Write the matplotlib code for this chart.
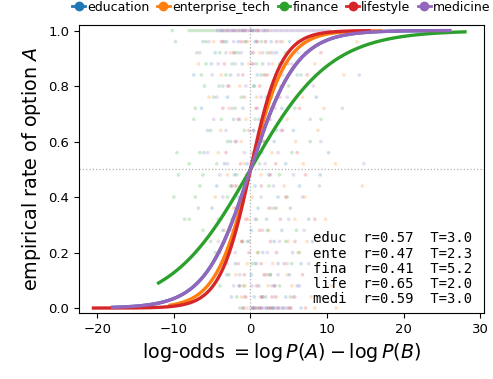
import numpy as np
import matplotlib
matplotlib.use("Agg")
import matplotlib.pyplot as plt
from matplotlib.lines import Line2D

# ---- data -------------------------------------------------------------
categories = ["education", "enterprise_tech", "finance", "lifestyle", "medicine"]
short_names = ["educ", "ente", "fina", "life", "medi"]
corr_r = [0.57, 0.47, 0.41, 0.65, 0.59]
temperature = [3.0, 2.3, 5.2, 2.0, 3.0]
curve_lo = [-18.0, -10.5, -12.0, -20.5, -18.0]
curve_hi = [26.0, 17.0, 28.0, 15.5, 26.0]
colors = ["#1f77b4", "#ff7f0e", "#2ca02c", "#d62728", "#9467bd"]

n_trials = 25  # empirical rate = k / n_trials; rows listed from k=25 down to k=0

edu_pts = [
    [-3.6, -2.9, -2.1, -1.4, -0.6, 0.4, 1.8],
    [-6.2, -3.1, -1.6, 0.6, 2.7, 5.1],
    [-4.6, -2.0, 0.1, 3.4, 7.2],
    [-5.1, -1.1, 1.6, 4.4],
    [-7.4, -2.6, 0.9, 6.1],
    [-4.1, 0.5, 3.2],
    [-3.0, 2.1, 8.6],
    [-6.4, -1.0, 4.1],
    [-2.2, 1.1],
    [-5.6, 0.4, 5.6],
    [-2.6, 3.1],
    [-6.1, 1.5, 10.2],
    [-3.4, -0.4, 4.6],
    [-2.1, 2.4, 9.1],
    [-4.4, 0.6, 6.4],
    [-1.6, 3.6],
    [-5.0, 1.0, 5.2],
    [-2.4, 2.1, 7.6],
    [-3.6, 0.1, 4.1],
    [-1.0, 3.1, 8.1],
    [-4.0, 1.6, 5.5],
    [-2.0, 0.6, 3.6, 6.6],
    [-3.1, 0.1, 2.6, 5.1],
    [-1.5, 1.1, 3.1, 6.1],
    [-2.5, 0.5, 2.0, 4.6, 9.1],
    [-1.0, 0.3, 1.2, 2.1, 3.0, 4.3, 6.6],
]

ent_pts = [
    [-3.2, -1.8, -0.9, 0.8, 2.2],
    [-4.8, -0.4, 1.9, 4.2, 13.9],
    [-2.6, 1.2, 5.6],
    [-6.8, -0.2, 2.9, 8.4],
    [-3.8, 1.9, 12.2],
    [-1.4, 3.9],
    [-5.4, 0.8, 6.8],
    [-2.8, 2.6, 9.6],
    [-0.6, 4.8],
    [-3.9, 1.8, 8.8],
    [-1.2, 5.9],
    [-4.2, 2.8],
    [-0.8, 6.9, 11.1],
    [-3.0, 1.4],
    [-1.8, 4.4, 14.6],
    [-4.6, 0.2, 7.1],
    [-2.2, 3.4],
    [-0.3, 5.8, 9.8],
    [-3.4, 2.4],
    [-1.1, 4.9, 7.4],
    [-2.7, 0.9, 6.2],
    [-0.4, 2.9, 8.9],
    [-1.9, 1.8, 4.8],
    [-0.7, 2.3, 5.4, 10.6],
    [-1.2, 1.3, 3.4, 7.9],
    [-0.5, 0.9, 2.6, 4.9, 8.4, 11.2],
]

fin_pts = [
    [-10.2, -8.0, -7.6, -7.2, -6.8, -6.4, -6.0, -5.6, -5.2, -4.8, -4.4, -3.9, 0.2],
    [-9.8, -5.8, -3.4, -0.6, 1.4, 6.8],
    [-7.0, -4.0, -1.6, 2.2, 4.6],
    [-5.8, -2.4, 0.8, 3.8],
    [-6.4, -3.2, 1.4, 6.6],
    [-6.0, -3.6, 0.4, 5.0],
    [-4.8, -1.2, 2.8],
    [-7.2, -2.0, 5.8],
    [-7.4, -3.8, 0.6, 9.2],
    [-5.2, -0.8, 3.4],
    [-3.0, 1.6, 7.8],
    [-9.6, -6.6, 0.9, 5.4],
    [-8.0, -4.4, 1.2],
    [-9.4, -6.2, -1.8, 3.8],
    [-6.6, -2.6, 2.4],
    [-10.0, -7.2, -3.0, 4.8],
    [-6.8, -1.4, 3.2],
    [-8.6, -8.0, -4.2, 0.8],
    [-6.2, -2.8, 2.2, 6.0],
    [-5.2, -0.4, 4.6],
    [-4.6, 1.0, 6.4],
    [-3.4, 0.2, 5.4],
    [-2.8, 2.6],
    [-4.0, -0.9, 3.8],
    [-1.8, 1.6, 5.2],
    [-1.4, 0.6, 2.8],
]

life_pts = [
    [-2.4, -1.0, 0.0, 1.0],
    [-3.8, -1.2, 0.9, 3.4, 6.2],
    [-2.2, 0.4, 2.6, 9.2],
    [-3.4, 0.2, 4.9],
    [-1.0, 2.2, 7.4],
    [-2.8, 1.2],
    [-0.8, 3.8],
    [-3.6, 0.7, 6.4],
    [-1.6, 2.4],
    [-0.2, 4.2],
    [-2.0, 1.8],
    [-3.2, 0.3, 6.1],
    [-1.3, 3.3],
    [-0.5, 2.6, 7.2],
    [-2.4, 1.4],
    [-0.9, 4.6],
    [-1.9, 2.4],
    [-0.6, 3.9, 8.4],
    [-2.2, 1.2],
    [-1.2, 2.6, 5.8],
    [-0.2, 3.4],
    [-1.6, 1.4, 4.4],
    [-0.8, 2.2, 6.8],
    [-1.4, 0.8, 3.2],
    [-0.6, 1.6, 2.8, 5.6],
    [-0.9, 0.4, 1.4, 2.4, 3.6, 5.2, 7.2],
]

med_pts = [
    [-4.3, -4.0, -3.7, -3.4, -3.1, -2.8, -2.5, -2.2, -1.9, -1.6, -1.3, -1.0,
     -0.7, -0.4, -0.1, 0.2, 0.5, 0.8, 1.1, 1.4, 1.7, 2.0, 2.3, 2.6, 2.9, 3.2,
     3.5, 3.8, 4.1, 4.4, 4.7, 5.0, 5.3, 5.6, 5.9, 6.2, 6.5, 6.8, 7.1, 7.4,
     7.7, 8.0, 8.3, 8.6, 8.9, 9.2, 9.5, 9.8, 10.1, 10.4],
    [-5.4, -3.6, -2.2, -0.8, 0.8, 2.0, 3.9, 9.8],
    [-6.6, -3.2, -1.2, 1.6, 3.0, 6.2],
    [-4.2, -2.0, 0.4, 2.4, 5.4],
    [-5.0, -1.6, 1.8, 4.2, 14.2],
    [-3.0, -0.6, 2.8, 8.2],
    [-4.4, 1.4, 4.8],
    [-2.4, 0.9, 3.2, 12.0],
    [-4.8, -1.4, 2.6, 7.8],
    [-3.2, 0.4, 4.0],
    [-1.8, 2.0, 9.2],
    [-5.6, -0.8, 3.6],
    [-3.0, 1.9, 14.8],
    [-4.0, 0.0, 5.6],
    [-2.0, 3.0, 9.0],
    [-3.6, 1.4, 6.8],
    [-1.2, 2.8],
    [-3.8, 0.6, 5.0],
    [-2.6, 1.6, 7.0],
    [-4.2, -0.2, 3.8],
    [-2.0, 2.2],
    [-3.0, 0.8, 4.8, 7.6],
    [-1.4, 1.8, 3.6],
    [-2.2, 0.2, 2.8, 6.4],
    [-0.8, 1.4, 3.2, 5.8],
    [0.0, 0.3, 0.6, 0.9, 1.2, 1.5, 1.8, 2.1, 2.4, 2.7, 3.0, 3.3, 3.6, 3.9,
     4.2, 4.6, 5.0, 5.3],
]

points = [edu_pts, ent_pts, fin_pts, life_pts, med_pts]


def flatten(rows):
    xs, ys = [], []
    for i, row in enumerate(rows):
        k = n_trials - i
        for x in row:
            xs.append(x)
            ys.append(k / n_trials)
    return np.array(xs), np.array(ys)


# ---- figure -----------------------------------------------------------
fig = plt.figure(figsize=(4.93, 3.79), dpi=100)
ax = fig.add_axes([0.160, 0.174, 0.822, 0.760])

ax.axhline(0.5, color="#b0b0b0", linestyle=":", linewidth=0.9, zorder=0)
ax.axvline(0.0, color="#b0b0b0", linestyle=":", linewidth=0.9, zorder=0)

for rows, col in zip(points, colors):
    xs, ys = flatten(rows)
    ax.scatter(xs, ys, s=7, color=col, alpha=0.22, edgecolors="none", zorder=1)

for lo, hi, T, col in zip(curve_lo, curve_hi, temperature, colors):
    xx = np.linspace(lo, hi, 400)
    ax.plot(xx, 1.0 / (1.0 + np.exp(-xx / T)), color=col, linewidth=2.4, zorder=3)

ax.set_xlim(-22.4, 30.5)
ax.set_ylim(-0.018, 1.02)
ax.set_xticks([-20, -10, 0, 10, 20, 30])
ax.set_yticks([0.0, 0.2, 0.4, 0.6, 0.8, 1.0])
ax.tick_params(labelsize=9.5)

ax.set_xlabel(r"log-odds $= \log P(A) - \log P(B)$", fontsize=13.8)
ax.set_ylabel(r"empirical rate of option $A$", fontsize=13.8)

summary = "\n".join(
    f"{s}  r={r:.2f}  T={t:.1f}" for s, r, t in zip(short_names, corr_r, temperature)
)
ax.text(0.97, 0.025, summary, transform=ax.transAxes, ha="right", va="bottom",
        family="DejaVu Sans Mono", fontsize=10, linespacing=1.1, zorder=4)

handles = [Line2D([0], [0], color=c, marker="o", markersize=6, linewidth=2)
           for c in colors]
ax.legend(handles, categories, loc="lower center", bbox_to_anchor=(0.5, 1.0),
          ncol=5, frameon=False, fontsize=9, handlelength=1.0,
          handletextpad=0.2, columnspacing=0.6)

fig.savefig("out.png", dpi=100)
